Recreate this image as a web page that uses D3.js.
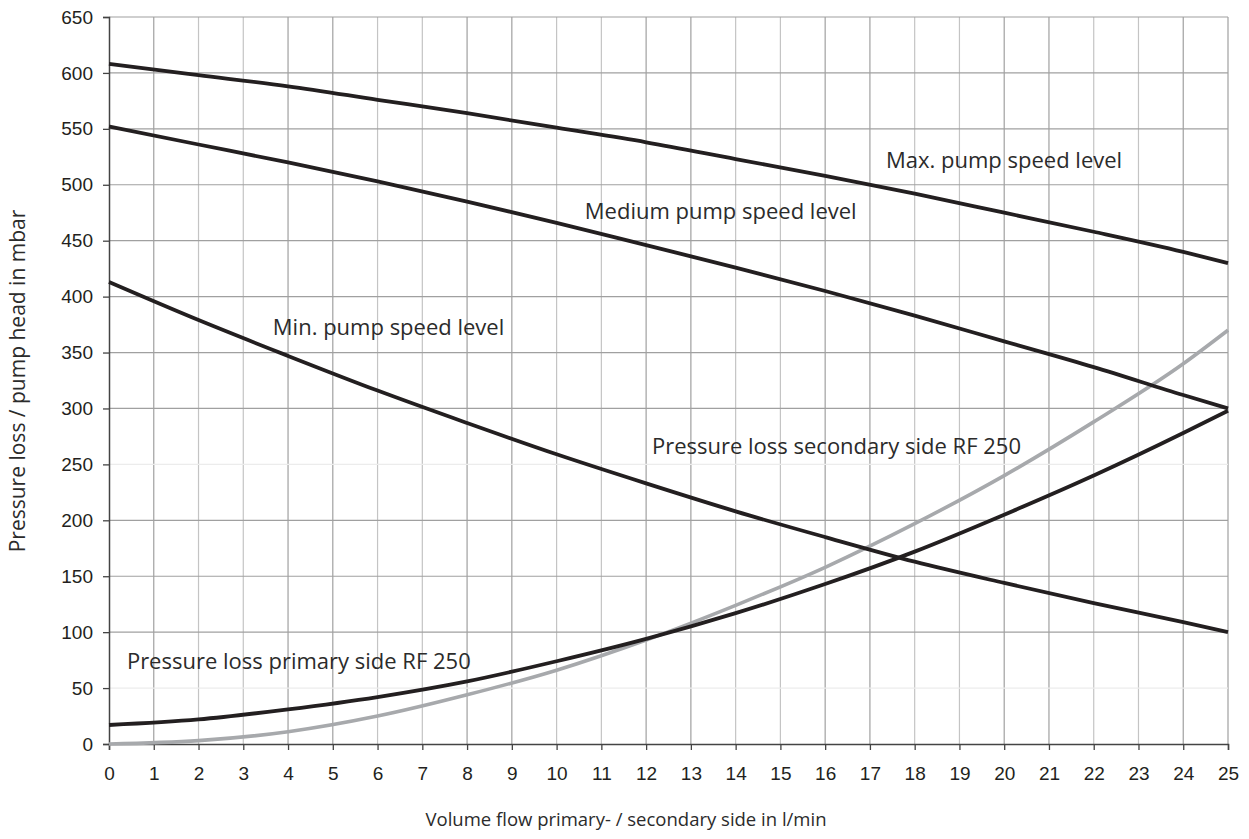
<!DOCTYPE html>
<html><head><meta charset="utf-8">
<script src="https://cdn.jsdelivr.net/npm/d3@7"></script>
<style>body{margin:0;background:#fff}</style>
</head><body>
<svg id="c" width="1249" height="839"></svg>
<script>
const flow = [0,2,4,6,8,10,12,14,16,18,20,22,24,25];
const maxSpeed = [608,598,588,576,564,551,538,523,508,492,475,458,440,430];
const mediumSpeed = [552,536,520,503,485,466,446,426,405,383,360,337,312,300];
const minSpeed = [413,379,347,316,287,259,233,208,185,163,144,126,109,100];
const primaryLoss = [17,22,31,42,56,74,94,117,143,172,205,240,278,298];
const secondaryLoss = [0,3,11,25,44,66,93,124,158,197,240,288,340,370];
const xTicks = d3.range(0,26,1);
const yTicks = d3.range(0,651,50);
const labels = [
  {text:"Max. pump speed level", x:17.36, y:515},
  {text:"Medium pump speed level", x:10.63, y:469},
  {text:"Min. pump speed level", x:3.66, y:366},
  {text:"Pressure loss secondary side RF 250", x:12.13, y:259},
  {text:"Pressure loss primary side RF 250", x:0.4, y:67}
];

const svg = d3.select("#c");
const L=109, R=1228, T=17, B=744;
const x = d3.scaleLinear().domain([0,25]).range([L,R]);
const y = d3.scaleLinear().domain([0,650]).range([B,T]);
const txtFont = "'Open Sans', 'Noto Sans', sans-serif";

// grid
svg.append("g").selectAll("line").data(xTicks.slice(1)).join("line")
  .attr("x1",d=>x(d)).attr("x2",d=>x(d)).attr("y1",T).attr("y2",B)
  .attr("stroke",d=> (d%4===2||d%4===3)?"#c4c4c4":"#a0a0a0").attr("stroke-width",1.2);
svg.append("g").selectAll("line").data(yTicks.slice(1)).join("line")
  .attr("x1",L).attr("x2",R).attr("y1",d=>y(d)).attr("y2",d=>y(d))
  .attr("stroke",d=>(d===50||d===250)?"#ececec":"#a0a0a0").attr("stroke-width",1.2);

// axes
const xa = svg.append("g").attr("transform",`translate(0,${B})`)
  .call(d3.axisBottom(x).tickValues(xTicks).tickSize(6).tickPadding(17).tickFormat(d3.format("d")));
const ya = svg.append("g").attr("transform",`translate(${L},0)`)
  .call(d3.axisLeft(y).tickValues(yTicks).tickSize(6).tickPadding(10).tickFormat(d3.format("d")));
[xa,ya].forEach(a=>{
  a.select(".domain").attr("stroke","#444").attr("stroke-width",1.5);
  a.selectAll(".tick line").attr("stroke","#444").attr("stroke-width",1.3);
  a.selectAll(".tick text").attr("font-family","'Liberation Sans', Arial, sans-serif")
    .attr("font-size",19).attr("fill","#231f20");
});

// curves
const line = d3.line().x((d,i)=>x(flow[i])).y(d=>y(d)).curve(d3.curveMonotoneX);
const series = [
  {v:secondaryLoss, c:"#a7a9ac", w:3.6},
  {v:primaryLoss, c:"#231f20", w:3.8},
  {v:minSpeed, c:"#231f20", w:3.8},
  {v:mediumSpeed, c:"#231f20", w:3.8},
  {v:maxSpeed, c:"#231f20", w:3.8}
];
svg.append("g").selectAll("path").data(series).join("path")
  .attr("d",d=>line(d.v)).attr("fill","none").attr("stroke",d=>d.c).attr("stroke-width",d=>d.w);

// annotations
svg.append("g").selectAll("text").data(labels).join("text")
  .attr("x",d=>x(d.x)).attr("y",d=>y(d.y)).text(d=>d.text)
  .attr("font-family",txtFont).attr("font-size",22).attr("fill","#2b2b2b");

// axis titles
svg.append("text").attr("x",626).attr("y",826).attr("text-anchor","middle")
  .attr("font-family",txtFont).attr("font-size",18.5).attr("fill","#2b2b2b")
  .text("Volume flow primary- / secondary side in l/min");
svg.append("text").attr("transform","translate(25,381) rotate(-90)").attr("text-anchor","middle")
  .attr("font-family",txtFont).attr("font-size",21).attr("fill","#2b2b2b")
  .text("Pressure loss / pump head in mbar");
</script>
</body></html>
